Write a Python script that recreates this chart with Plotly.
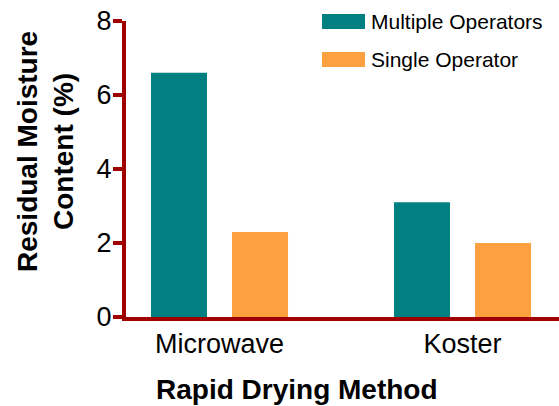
import plotly.graph_objects as go

categories = ["Microwave", "Koster"]
series_names = ["Multiple Operators", "Single Operator"]
multiple_operators = [6.6, 3.1]
single_operator = [2.3, 2.0]
y_ticks = [0, 2, 4, 6, 8]

colors = ["#008080", "#FCA040"]
axis_color = "#A00000"
FONT = "Liberation Sans, Arial, sans-serif"

W, H = 559, 406
ML, MR, MT, MB = 126, 0, 21, 89
PW, PH = W - ML - MR, H - MT - MB


def px_to_paper(px, py):
    return (px - ML) / PW, (H - MB - py) / PH


fig = go.Figure()
for name, vals, col in zip(series_names, [multiple_operators, single_operator], colors):
    fig.add_trace(go.Bar(x=categories, y=vals, name=name, marker=dict(color=col, line=dict(width=0)),
                         showlegend=False))

# custom legend (wide swatches)
shapes, annotations = [], []
for i, (name, col) in enumerate(zip(series_names, colors)):
    cy = 21.5 + i * 38
    x0, y0 = px_to_paper(322, cy - 7.5)
    x1, y1 = px_to_paper(365, cy + 7.5)
    shapes.append(dict(type="rect", xref="paper", yref="paper", x0=x0, x1=x1, y0=y0, y1=y1,
                       fillcolor=col, line=dict(width=0)))
    tx, ty = px_to_paper(369, cy)
    annotations.append(dict(text=name, xref="paper", yref="paper", x=tx, y=ty, xanchor="left",
                            yanchor="middle", showarrow=False, font=dict(family=FONT, size=21, color="#000")))

# axis titles
ax, ay = px_to_paper(45, 152)
annotations.append(dict(text="<b>Residual Moisture<br>Content (%)</b>", xref="paper", yref="paper",
                        x=ax, y=ay, xanchor="center", yanchor="middle", textangle=-90, showarrow=False,
                        font=dict(family=FONT, size=28, color="#000")))
bx, by = px_to_paper(297, 389)
annotations.append(dict(text="<b>Rapid Drying Method</b>", xref="paper", yref="paper",
                        x=bx, y=by, xanchor="center", yanchor="middle", showarrow=False,
                        font=dict(family=FONT, size=28, color="#000")))

fig.update_layout(
    width=W, height=H,
    margin=dict(l=ML, r=MR, t=MT, b=MB, pad=0),
    paper_bgcolor="white", plot_bgcolor="white",
    barmode="group", bargap=0.333, bargroupgap=0.309,
    font=dict(family=FONT, color="#000"),
    shapes=shapes, annotations=annotations,
    xaxis=dict(range=[-0.3848, 1.397], showgrid=False, zeroline=False, showline=True,
               linecolor=axis_color, linewidth=4, ticks="", tickfont=dict(size=27, color="#000")),
    yaxis=dict(range=[0, 8], tickvals=y_ticks, showgrid=False, zeroline=False, showline=True,
               linecolor=axis_color, linewidth=4, ticks="outside", ticklen=9, tickwidth=4,
               tickcolor=axis_color, ticklabelstandoff=-4, tickfont=dict(size=27, color="#000")),
)

fig.write_html("out.html", config={"displayModeBar": False},
               post_script="document.body.style.margin='0';document.body.style.overflow='hidden';")
